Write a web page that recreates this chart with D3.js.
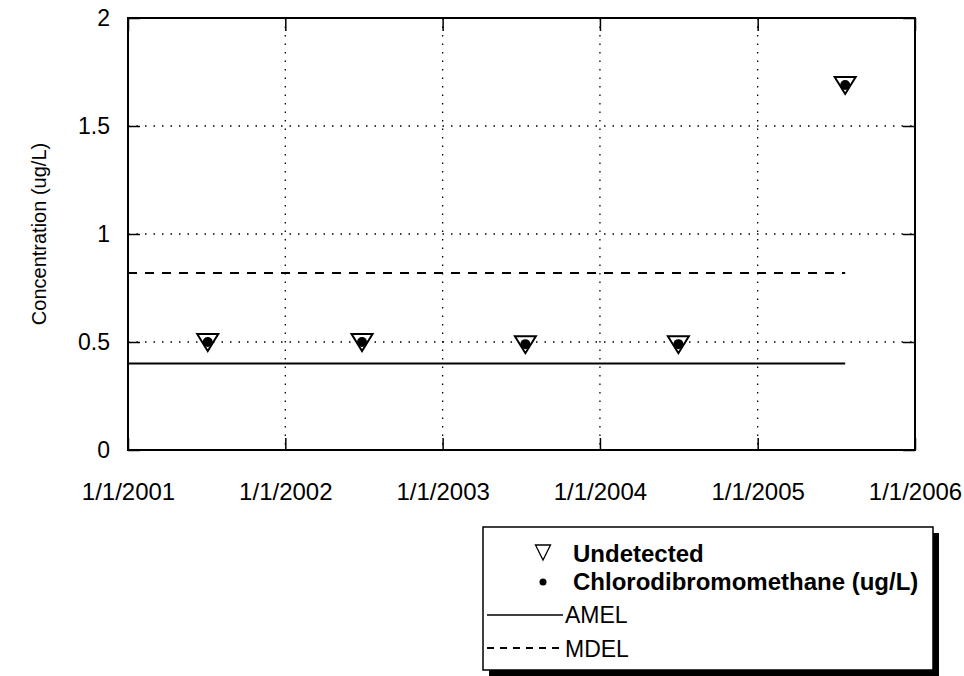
<!DOCTYPE html>
<html><head><meta charset="utf-8">
<script src="https://cdn.jsdelivr.net/npm/d3@7"></script>
<style>body{margin:0;background:#fff}svg{display:block;font-family:Arial,"Liberation Sans",sans-serif}</style>
</head><body>
<svg id="c" width="964" height="676"></svg>
<script>
const sampleDates = ["2001-07-05","2002-06-28","2003-07-12","2004-07-01","2005-07-23"];
const undetected = [0.5, 0.5, 0.49, 0.49, 1.69];
const detected = [0.5, 0.5, 0.49, 0.49, 1.69];
const amel = 0.4;
const mdel = 0.82;
const xTickLabels = ["1/1/2001","1/1/2002","1/1/2003","1/1/2004","1/1/2005","1/1/2006"];
const yTicks = [0, 0.5, 1, 1.5, 2];
const legendLabels = ["Undetected","Chlorodibromomethane (ug/L)","AMEL","MDEL"];

const parse = d3.timeParse("%Y-%m-%d");
const fmt = d3.timeFormat("%-m/%-d/%Y");
const dates = sampleDates.map(parse);
const xTicks = xTickLabels.map(s => d3.timeParse("%m/%d/%Y")(s));

const L = 128, R = 915, T = 18, B = 450;
const x = d3.scaleTime().domain([xTicks[0], xTicks[xTicks.length-1]]).range([L, R]);
const y = d3.scaleLinear().domain([0, 2]).range([B, T]);
const svg = d3.select("#c");

// gridlines
const g = svg.append("g");
g.selectAll(".hg").data(yTicks.slice(1, -1)).join("line")
  .attr("x1", L).attr("x2", R).attr("y1", d => y(d)).attr("y2", d => y(d))
  .attr("stroke", "#000").attr("stroke-width", 1.3).attr("stroke-dasharray", "1.5,7");
g.selectAll(".vg").data(xTicks.slice(1, -1)).join("line")
  .attr("x1", d => x(d)).attr("x2", d => x(d)).attr("y1", T).attr("y2", B)
  .attr("stroke", "#000").attr("stroke-width", 1.3).attr("stroke-dasharray", "1.5,7");

// axes (inside ticks) on all sides
const yAxis = d3.axisLeft(y).tickValues(yTicks).tickSize(-12).tickPadding(18).tickFormat(d3.format("~g"));
const ya = svg.append("g").attr("transform", `translate(${L},0)`).call(yAxis);
ya.select(".domain").remove();
ya.selectAll("line").attr("stroke-width", 1.5);
ya.selectAll("text").attr("font-size", 23).attr("fill", "#000");
const yr = svg.append("g").attr("transform", `translate(${R},0)`).call(d3.axisRight(y).tickValues(yTicks).tickSize(-12).tickFormat(""));
yr.select(".domain").remove(); yr.selectAll("line").attr("stroke-width", 1.5);

const xAxis = d3.axisBottom(x).tickValues(xTicks).tickSize(-12).tickPadding(33).tickFormat(fmt);
const xa = svg.append("g").attr("transform", `translate(0,${B})`).call(xAxis);
xa.select(".domain").remove();
xa.selectAll("line").attr("stroke-width", 1.5);
xa.selectAll("text").attr("font-size", 24).attr("fill", "#000");
const xt = svg.append("g").attr("transform", `translate(0,${T})`).call(d3.axisTop(x).tickValues(xTicks).tickSize(-13).tickFormat(""));
xt.select(".domain").remove(); xt.selectAll("line").attr("stroke-width", 1.5);

// frame
svg.append("rect").attr("x", L).attr("y", T).attr("width", R - L).attr("height", B - T)
  .attr("fill", "none").attr("stroke", "#000").attr("stroke-width", 2);

// y title
svg.append("text").attr("transform", `translate(46,${(T+B)/2}) rotate(-90)`)
  .attr("text-anchor", "middle").attr("font-size", 20).text("Concentration (ug/L)");

// limit lines
const lastDate = dates[dates.length-1];
svg.append("line").attr("x1", x(xTicks[0])).attr("x2", x(lastDate)).attr("y1", y(amel)).attr("y2", y(amel))
  .attr("stroke", "#000").attr("stroke-width", 2);
svg.append("line").attr("x1", x(xTicks[0])).attr("x2", x(lastDate)).attr("y1", y(mdel)).attr("y2", y(mdel))
  .attr("stroke", "#000").attr("stroke-width", 2).attr("stroke-dasharray", "9,8");

// markers
const tri = (cx, cy) => `M${cx-10.5},${cy-8} L${cx+10.5},${cy-8} L${cx},${cy+9} Z`;
svg.selectAll(".tri").data(dates).join("path")
  .attr("d", (d, i) => tri(x(d), y(undetected[i])))
  .attr("fill", "#fff").attr("stroke", "#000").attr("stroke-width", 2);
svg.selectAll(".dot").data(dates).join("circle")
  .attr("cx", d => x(d)).attr("cy", (d, i) => y(detected[i])).attr("r", 5).attr("fill", "#000");

// legend
const lx = 483, ly = 527, lw = 450, lh = 143;
svg.append("rect").attr("x", lx + 6).attr("y", ly + 6).attr("width", lw).attr("height", lh).attr("fill", "#000");
svg.append("rect").attr("x", lx).attr("y", ly).attr("width", lw).attr("height", lh)
  .attr("fill", "#fff").attr("stroke", "#000").attr("stroke-width", 1.5);
const baselines = [562, 590, 623, 657];
const mid = [552, 582, 615, 648];
svg.append("path").attr("d", `M${543-7.5},${mid[0]-7} L${543+7.5},${mid[0]-7} L543,${mid[0]+8} Z`)
  .attr("fill", "none").attr("stroke", "#000").attr("stroke-width", 1.3);
svg.append("circle").attr("cx", 543).attr("cy", mid[1]).attr("r", 3.5).attr("fill", "#000");
svg.append("line").attr("x1", 487).attr("x2", 563).attr("y1", mid[2]).attr("y2", mid[2]).attr("stroke", "#000").attr("stroke-width", 1.5);
svg.append("line").attr("x1", 487).attr("x2", 563).attr("y1", mid[3]).attr("y2", mid[3]).attr("stroke", "#000").attr("stroke-width", 2).attr("stroke-dasharray", "7,6");
svg.selectAll(".lt").data(legendLabels).join("text")
  .attr("x", (d, i) => i < 2 ? 573 : 565).attr("y", (d, i) => baselines[i])
  .attr("font-size", (d, i) => i < 2 ? 24 : 23)
  .attr("font-weight", (d, i) => i < 2 ? "bold" : "normal")
  .text(d => d);
</script>
</body></html>
